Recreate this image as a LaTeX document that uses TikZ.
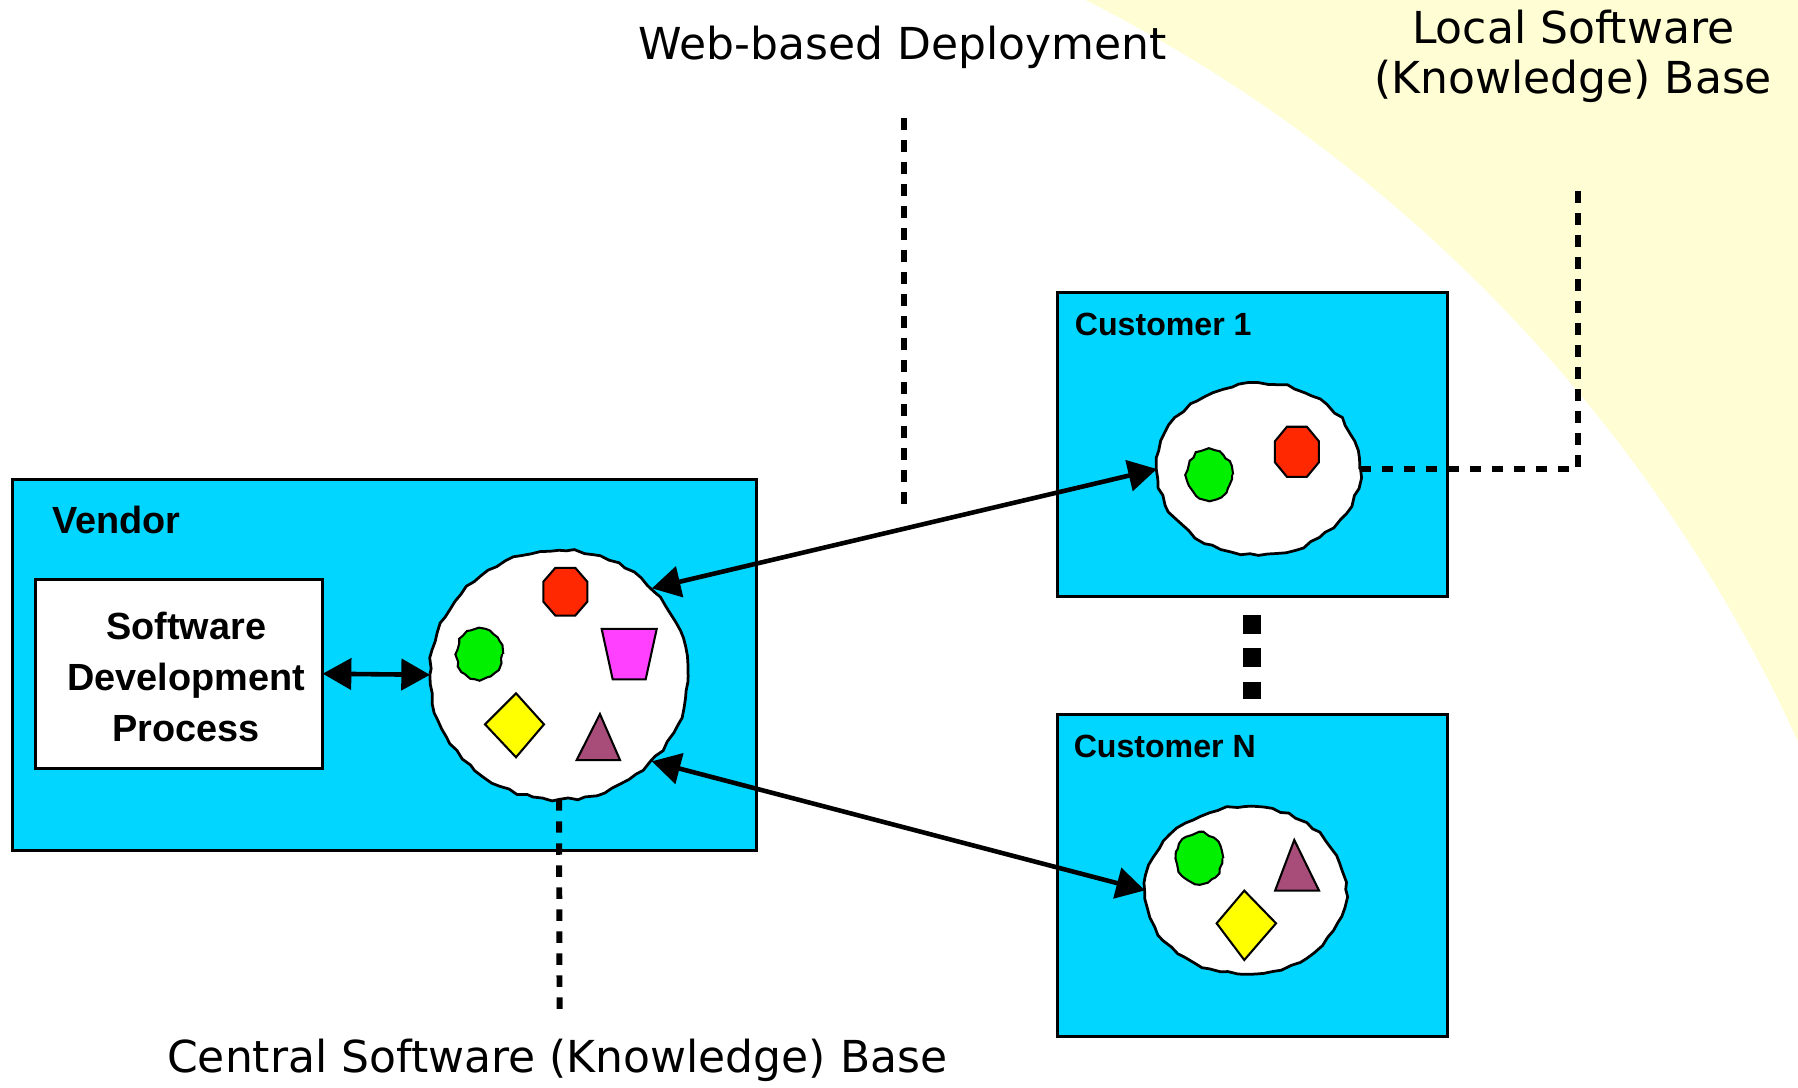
\documentclass[tikz,border=0pt]{standalone}
\usepackage{fontspec}
\setmainfont{DejaVu Sans}
\newfontfamily\labelfont{Liberation Sans}
\usetikzlibrary{arrows.meta,shapes.geometric,decorations.pathmorphing}

\definecolor{panel}{RGB}{0,214,255}
\definecolor{haze}{RGB}{255,253,212}
\definecolor{octred}{RGB}{255,40,0}
\definecolor{dotgreen}{RGB}{0,240,0}
\definecolor{trapmag}{RGB}{255,64,255}
\definecolor{diayel}{RGB}{255,255,0}
\definecolor{triplum}{RGB}{168,77,121}

\tikzset{
  panelbox/.style={draw=black, line width=1.3pt, fill=panel, inner sep=0pt, outer sep=0pt},
  whitebox/.style={draw=black, line width=1.3pt, fill=white, inner sep=0pt, outer sep=0pt},
  blob/.style={ellipse, draw=black, fill=white, line width=1.2pt, inner sep=0pt, outer sep=0pt,
    decorate, decoration={random steps, segment length=4pt, amplitude=0.7pt}},
  shapeline/.style={draw=black, line width=0.9pt, line join=miter},
  link/.style={line width=2pt, {Triangle[length=12.5pt,width=13.5pt]}-{Triangle[length=12.5pt,width=13.5pt]}},
  leader/.style={line width=2.6pt, dash pattern=on 5pt off 4.6pt},
  bigdots/.style={line width=8pt, dash pattern=on 8pt off 6.5pt},
  titletext/.style={font=\fontsize{19.2pt}{22pt}\selectfont, inner sep=0pt},
  boxlabel/.style={font=\labelfont\bfseries\fontsize{14pt}{16pt}\selectfont, inner sep=0pt},
  biglabel/.style={font=\labelfont\bfseries\fontsize{16.5pt}{22.25pt}\selectfont, inner sep=0pt},
  octa/.pic={\filldraw[fill=octred, shapeline]
      (-8.7,-20.8) -- (8.7,-20.8) -- (19.2,-8.7) -- (19.2,8.7) -- (8.7,20.8)
      -- (-8.7,20.8) -- (-19.2,8.7) -- (-19.2,-8.7) -- cycle;},
  gear/.pic={\filldraw[fill=dotgreen, shapeline, decorate,
      decoration={random steps, segment length=2.2pt, amplitude=0.6pt}]
      (0,0) ellipse[x radius=20, y radius=22];},
}

\begin{document}
\pgfmathsetseed{11}
\begin{tikzpicture}[x=0.5pt,y=-0.5pt]
  \useasboundingbox (0,0) rectangle (1568,948);

  % pale yellow zone beyond the large arc (arc centre (337,1209), radius 1354)
  \begin{scope}
    \clip (0,0) rectangle (1568,948);
    \fill[haze] (946.6,0) arc[start angle=-63.2, end angle=-24.6, radius=1354]
      -- (1569,645) -- (1569,-1) -- (946.6,-1) -- cycle;
  \end{scope}

  % vendor side
  \node[panelbox, anchor=north west, minimum width=324.5pt, minimum height=162pt] (vendor) at (11,418) {};
  \node[boxlabel, font=\labelfont\bfseries\fontsize{16.5pt}{18pt}\selectfont, anchor=base west] (vendorlbl) at (45,465) {Vendor};
  \node[whitebox, anchor=north west, minimum width=125.2pt, minimum height=82.5pt] (sdp) at (31,505) {};
  \node[biglabel, align=center, anchor=base] (sdptext) at (162.5,647) {Software\\Development\\Process};
  \node[blob, minimum width=112.5pt, minimum height=108.5pt] (cb) at (487.5,588.5) {};

  % customers
  \node[panelbox, anchor=north west, minimum width=170pt, minimum height=132.5pt] (c1box) at (922,255) {};
  \node[boxlabel, anchor=base west] (c1lbl) at (937,293) {Customer 1};
  \node[blob, minimum width=88.5pt, minimum height=75pt] (c1) at (1097.4,409) {};

  \node[panelbox, anchor=north west, minimum width=170pt, minimum height=140pt] (cnbox) at (922,623.5) {};
  \node[boxlabel, anchor=base west] (cnlbl) at (936,661) {Customer N};
  \node[blob, minimum width=87.5pt, minimum height=73pt] (cn) at (1086,776.5) {};

  % contents of the central base
  \pic at (493,516) {octa};
  \pic at (418,570.5) {gear};
  \filldraw[fill=trapmag, shapeline] (524.7,548.5) -- (572.7,548.5) -- (563.1,592.4) -- (534.3,592.4) -- cycle;
  \filldraw[fill=diayel, shapeline] (423,631.7) -- (450,604.6) -- (474.4,631.7) -- (450,660.4) -- cycle;
  \filldraw[fill=triplum, shapeline] (523.2,622.7) -- (540.7,662.8) -- (502.9,662.8) -- cycle;

  % contents of customer 1
  \pic at (1054.5,414) {gear};
  \pic[yscale=1.05] at (1131,394) {octa};

  % contents of customer N
  \pic at (1046,748.5) {gear};
  \filldraw[fill=triplum, shapeline] (1128.7,732.5) -- (1150.3,776.7) -- (1112,776.7) -- cycle;
  \filldraw[fill=diayel, shapeline] (1061,805.2) -- (1085.1,776.7) -- (1112.8,805.2) -- (1085.1,837.2) -- cycle;

  % connectors
  \draw[link] (sdp.east) -- (cb.west);
  \draw[link] (cb.43) -- (c1.west);
  \draw[link] (cb.-43) -- (cn.west);
  \draw[bigdots] ([yshift=-8.25pt]c1box.south) -- ([yshift=7pt]cnbox.north);

  % captions and their leaders
  \node[titletext, anchor=base] (webtxt) at (787,51.5) {Web-based Deployment};
  \coordinate (webtop) at (788,103);
  \coordinate (webbot) at (788,445);
  \draw[leader] (webtop) -- (webbot);

  \node[titletext, anchor=base] (localtxt1) at (1372,37.5) {Local Software};
  \node[titletext, anchor=base] (localtxt2) at (1372,81.5) {(Knowledge) Base};
  \coordinate (localtop) at (1376,162);
  \draw[leader] (c1.east) -| (localtop);

  \node[titletext, anchor=base] (centraltxt) at (486,935) {Central Software (Knowledge) Base};
  \coordinate (centralbot) at (488,888);
  \draw[leader] (cb.south) -- (centralbot);
\end{tikzpicture}
\end{document}
